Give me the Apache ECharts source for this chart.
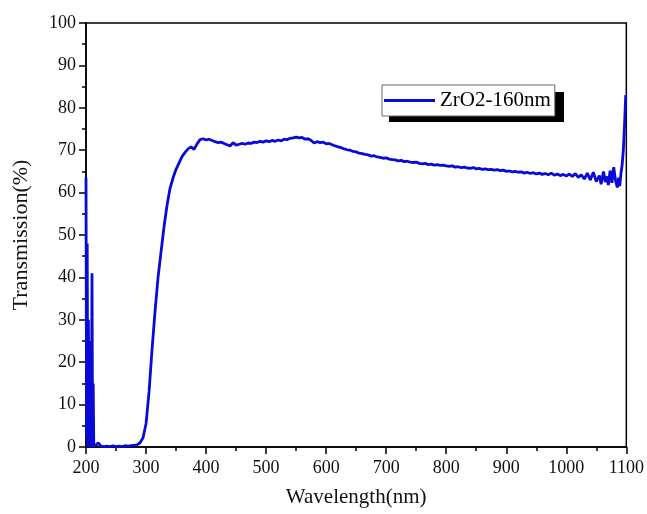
<!DOCTYPE html>
<html>
<head>
<meta charset="utf-8">
<script src="https://cdn.jsdelivr.net/npm/echarts@6/dist/echarts.min.js"></script>
<style>html,body{margin:0;padding:0;background:#fff}#c{width:647px;height:514px}</style>
</head>
<body>
<div id="c"></div>
<script>
const seriesName = 'ZrO2-160nm';
const wavelength = [
200,201,202,203,204,205,206,207,208,209,210,211,212,213,214,215,218,220,222,225,230,235,240,245,250,255,260,265,270,275,280,285,290,295,
300,305,310,315,320,325,330,335,340,345,350,355,360,365,370,375,380,385,390,395,
400,405,410,415,420,425,430,435,440,445,450,455,460,465,470,475,480,485,490,495,
500,505,510,515,520,525,530,535,540,545,550,555,560,565,570,575,580,585,590,595,
600,605,610,615,620,625,630,635,640,645,650,655,660,665,670,675,680,685,690,695,
700,705,710,715,720,725,730,735,740,745,750,755,760,765,770,775,780,785,790,795,
800,805,810,815,820,825,830,835,840,845,850,855,860,865,870,875,880,885,890,895,
900,905,910,915,920,925,930,935,940,945,950,955,960,965,970,975,980,985,990,995,
1000,1005,1010,1015,1020,1025,1030,1035,1040,1045,1050,1055,1058,1062,1065,1068,1070,1073,1076,1079,
1082,1085,1087,1089,1091,1093,1095,1097,1099];
const transmission = [
63.5,2,48,0,30,0,25,1,22,0,41,0,15,0,0.5,0.2,0.5,1.0,0.8,0.2,0.1,0.2,0.1,0.3,0.1,0.2,0.1,0.3,0.2,0.3,0.4,0.5,1.0,2.2,
5.5,13,23,32,40,46,52,57,61,63.5,65.5,67,68.5,69.5,70.3,70.8,70.2,71.5,72.5,72.7,
72.4,72.6,72.3,72.0,71.8,71.9,71.6,71.3,71.0,71.8,71.2,71.4,71.6,71.4,71.7,71.6,71.9,71.8,72.1,71.9,
72.2,72.0,72.3,72.1,72.4,72.2,72.6,72.5,72.8,72.9,73.1,72.9,73.0,72.6,72.7,72.3,71.7,72.0,71.8,71.9,
71.5,71.6,71.3,71.0,70.8,70.6,70.3,70.1,70.0,69.7,69.6,69.3,69.2,69.0,68.9,68.6,68.7,68.4,68.3,68.1,
68.2,67.9,67.8,67.7,67.5,67.6,67.3,67.4,67.2,67.1,67.2,66.9,66.8,66.9,66.6,66.7,66.5,66.6,66.4,66.5,
66.3,66.2,66.3,66.0,66.1,65.9,66.0,65.8,65.7,65.9,65.6,65.7,65.5,65.6,65.4,65.5,65.3,65.4,65.2,65.3,
65.0,65.1,64.9,65.0,64.8,64.9,64.6,64.8,64.5,64.7,64.4,64.6,64.3,64.5,64.2,64.6,64.1,64.4,64.0,64.3,
63.9,64.4,63.8,64.5,63.6,64.2,63.2,64.6,63.0,64.8,62.6,64.0,62.0,65.0,62.5,63.8,61.8,65.2,62.3,66.0,
62.8,61.2,63.5,61.5,64.5,66.5,70,76,83];
const xTicks = [200,300,400,500,600,700,800,900,1000,1100];
const yTicks = [0,10,20,30,40,50,60,70,80,90,100];

const points = wavelength.map((w, i) => [w, transmission[i]]);
const serif = 'Liberation Serif';
const chart = echarts.init(document.getElementById('c'), null, {renderer: 'canvas'});
chart.setOption({
  backgroundColor: '#fff',
  animation: false,
  grid: {left: 86, top: 23, right: 20, bottom: 67, show: true, borderColor: '#000', borderWidth: 1.5, backgroundColor: 'transparent'},
  graphic: [{
    type: 'rect', z: 0, silent: true,
    shape: {x: 389, y: 92, width: 175, height: 30},
    style: {fill: '#000'}
  }],
  legend: {
    data: [seriesName], left: 382, top: 85, orient: 'horizontal', z: 5,
    icon: 'rect', itemWidth: 51, itemHeight: 3, itemGap: 5,
    padding: [5, 4, 5, 2],
    backgroundColor: '#fff', borderColor: '#666', borderWidth: 1,
    textStyle: {fontFamily: serif, fontSize: 21, color: '#000'}
  },
  xAxis: {
    type: 'value', min: xTicks[0], max: xTicks[xTicks.length - 1], interval: 100,
    name: 'Wavelength(nm)', nameLocation: 'middle', nameGap: 40,
    nameTextStyle: {fontFamily: serif, fontSize: 21, color: '#111'},
    axisLine: {show: true, onZero: false, lineStyle: {color: '#000', width: 1.5}},
    axisTick: {show: true, inside: false, length: 7, lineStyle: {color: '#000', width: 1.5}},
    minorTick: {show: true, splitNumber: 2, length: 4, lineStyle: {color: '#000', width: 1.5}},
    splitLine: {show: false},
    axisLabel: {fontFamily: serif, fontSize: 18, color: '#111', margin: 12, formatter: v => String(v)}
  },
  yAxis: {
    type: 'value', min: yTicks[0], max: yTicks[yTicks.length - 1], interval: 10,
    name: 'Transmission(%)', nameLocation: 'middle', nameGap: 54,
    nameTextStyle: {fontFamily: serif, fontSize: 22, color: '#111'},
    axisLine: {show: true, onZero: false, lineStyle: {color: '#000', width: 1.5}},
    axisTick: {show: true, inside: false, length: 7, lineStyle: {color: '#000', width: 1.5}},
    minorTick: {show: true, splitNumber: 2, length: 4, lineStyle: {color: '#000', width: 1.5}},
    splitLine: {show: false},
    axisLabel: {fontFamily: serif, fontSize: 18, color: '#111', margin: 10, formatter: v => String(v)}
  },
  series: [{
    name: seriesName, type: 'line', data: points,
    symbol: 'none', showSymbol: false, smooth: false,
    lineStyle: {color: '#0a0ad8', width: 2.8},
    itemStyle: {color: '#0a0ad8'}
  }]
});
</script>
</body>
</html>
